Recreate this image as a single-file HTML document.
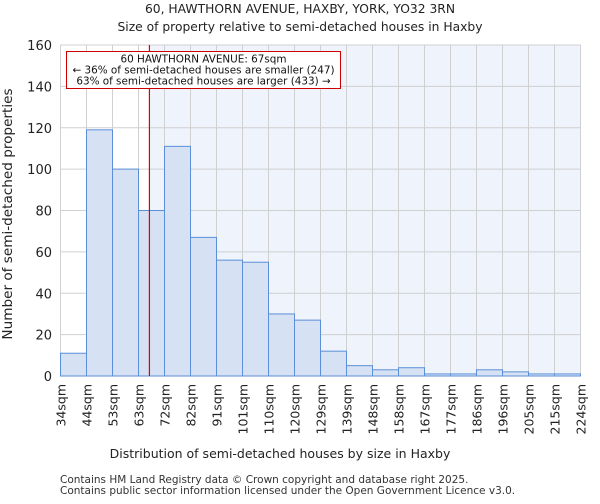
<!DOCTYPE html>
<html><head><meta charset="utf-8"><style>
body{margin:0;background:#fff;font-family:"DejaVu Sans","Liberation Sans",sans-serif}
</style></head><body>
<svg id="c" width="600" height="500" xmlns="http://www.w3.org/2000/svg" font-family="DejaVu Sans, Liberation Sans, sans-serif">
<text x="300" y="13" text-anchor="middle" font-size="12.3" fill="#222">60, HAWTHORN AVENUE, HAXBY, YORK, YO32 3RN</text>
<text x="300" y="31" text-anchor="middle" font-size="12.3" fill="#222">Size of property relative to semi-detached houses in Haxby</text>
<g id="plot"></g>
<text x="280" y="458" text-anchor="middle" font-size="12.5" fill="#222">Distribution of semi-detached houses by size in Haxby</text>
<text transform="translate(12,214) rotate(-90)" text-anchor="middle" font-size="13.6" fill="#222">Number of semi-detached properties</text>
<text x="60" y="483" font-size="10.5" fill="#333">Contains HM Land Registry data © Crown copyright and database right 2025.</text>
<text x="60" y="494" font-size="10.5" fill="#333">Contains public sector information licensed under the Open Government Licence v3.0.</text>
</svg>
<script>
const categories=["34sqm","44sqm","53sqm","63sqm","72sqm","82sqm","91sqm","101sqm","110sqm","120sqm","129sqm","139sqm","148sqm","158sqm","167sqm","177sqm","186sqm","196sqm","205sqm","215sqm","224sqm"];
const values=[11,119,100,80,111,67,56,55,30,27,12,5,3,4,1,1,3,2,1,1];
const yTicks=[0,20,40,60,80,100,120,140,160];
const markerBin=3.42;
const NS="http://www.w3.org/2000/svg";
const g=document.getElementById('plot');
const X0=60.5,X1=580.5,Y0=376,Y1=45,n=values.length,bw=(X1-X0)/n;
const x=i=>X0+i*bw, y=v=>Y0-(v/160)*(Y0-Y1);
function mk(t,a,p){const e=document.createElementNS(NS,t);for(const k in a)e.setAttribute(k,a[k]);(p||g).appendChild(e);return e;}
const mx=x(markerBin);
let e=mk('rect',{x:mx,y:Y1,width:X1-mx,height:Y0-Y1,fill:'#eef3fc'});


for(let i=0;i<=n;i++){e=mk('line',{x1:x(i),x2:x(i),y1:Y1,y2:Y0,stroke:'#d0d0d0','stroke-width':1});

}
yTicks.forEach(t=>{e=mk('line',{x1:X0,x2:X1,y1:y(t),y2:y(t),stroke:'#d0d0d0','stroke-width':1});


e=mk('text',{x:52,y:y(t)+5,'text-anchor':'end','font-size':'13',fill:'#222'});e.textContent=t;

});
values.forEach((v,i)=>{e=mk('rect',{x:x(i),y:y(v),width:bw,height:Y0-y(v),fill:'#d6e1f3',stroke:'#5b8fd9','stroke-width':1});

});
categories.forEach((c,i)=>{e=mk('text',{transform:`translate(${x(i)+5},384) rotate(-90)`,'text-anchor':'end','font-size':'12.5',fill:'#222'});e.textContent=c;

});
e=mk('line',{x1:mx,x2:mx,y1:Y1,y2:Y0,stroke:'#e00000','stroke-width':1.2});


e=mk('rect',{x:66.5,y:51.5,width:274,height:37,fill:'#fff',stroke:'#cc0000','stroke-width':1});


["60 HAWTHORN AVENUE: 67sqm","← 36% of semi-detached houses are smaller (247)","63% of semi-detached houses are larger (433) →"].forEach((s,i)=>{
e=mk('text',{x:203.5,y:62.5+i*11,'text-anchor':'middle','font-size':'10.4',fill:'#111'});e.textContent=s;

});
</script>
</body></html>
